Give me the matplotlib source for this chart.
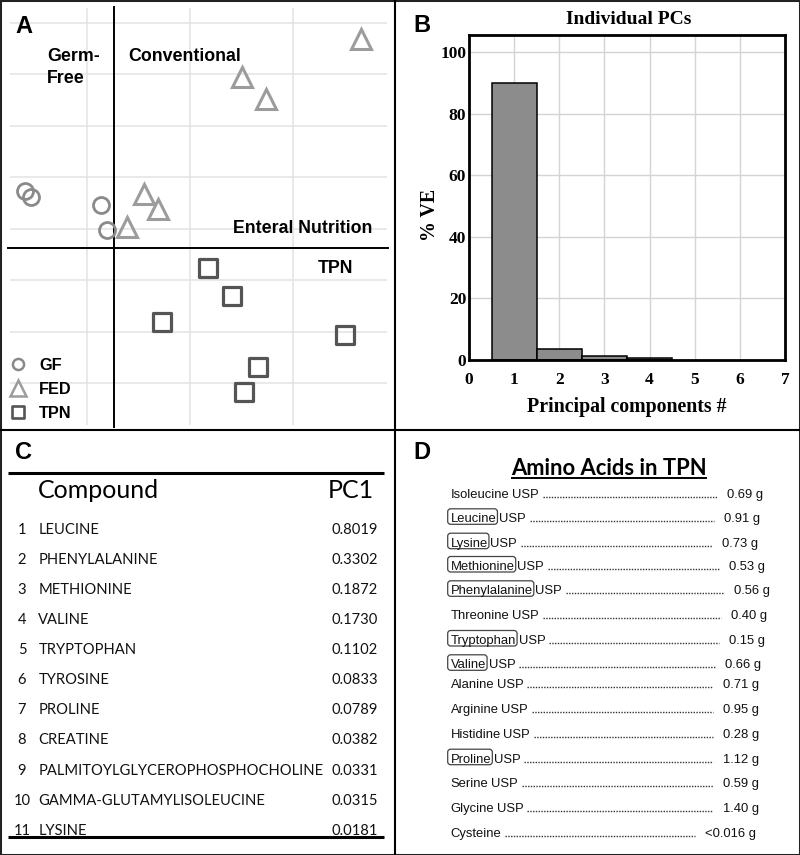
import numpy as np
import matplotlib
matplotlib.use('Agg')
import matplotlib.pyplot as plt
from matplotlib.lines import Line2D
from matplotlib.patches import FancyBboxPatch, Rectangle
from matplotlib.markers import MarkerStyle

W, H = 800, 855

# ==========================================
# DATA
# ==========================================
# A: PCA scores (origin where the black lines cross, one unit = one grid step)
gf_x = [-0.86, -0.81, -0.13, -0.07]
gf_y = [1.11, 1.00, 0.84, 0.35]
fed_x = [2.40, 1.24, 1.48, 0.29, 0.43, 0.13]
fed_y = [4.05, 3.33, 2.89, 1.05, 0.75, 0.41]
tpn_x = [0.91, 1.15, 0.47, 2.24, 1.40, 1.26]
tpn_y = [-0.38, -0.93, -1.43, -1.68, -2.31, -2.79]

# B: variance explained by each PC
pcs = [1, 2, 3, 4]
pct_ve = [90.0, 3.3, 1.1, 0.6]

# C: PC1 loadings
compounds = ['LEUCINE', 'PHENYLALANINE', 'METHIONINE', 'VALINE', 'TRYPTOPHAN',
             'TYROSINE', 'PROLINE', 'CREATINE', 'PALMITOYLGLYCEROPHOSPHOCHOLINE',
             'GAMMA-GLUTAMYLISOLEUCINE', 'LYSINE']
pc1 = [0.8019, 0.3302, 0.1872, 0.1730, 0.1102, 0.0833, 0.0789, 0.0382,
       0.0331, 0.0315, 0.0181]

# D: amino acids in TPN
amino_acids = ['Isoleucine', 'Leucine', 'Lysine', 'Methionine', 'Phenylalanine',
               'Threonine', 'Tryptophan', 'Valine', 'Alanine', 'Arginine',
               'Histidine', 'Proline', 'Serine', 'Glycine', 'Cysteine']
amounts = ['0.69', '0.91', '0.73', '0.53', '0.56', '0.40', '0.15', '0.66',
           '0.71', '0.95', '0.28', '1.12', '0.59', '1.40', '<0.016']
usp = [True] * 14 + [False]
boxed = ['Leucine', 'Lysine', 'Methionine', 'Phenylalanine', 'Tryptophan',
         'Valine', 'Proline']

# ==========================================
# FIGURE
# ==========================================
fig = plt.figure(figsize=(W / 100, H / 100), dpi=100)


def fx(px):
    return px / W


def fy(py):
    return 1 - py / H


ARIAL = 'Liberation Sans'
TIMES = 'Liberation Serif'
LATO = 'Lato'

# panel frames
fig.add_artist(Rectangle((0, 0), 1, 1, transform=fig.transFigure, fill=False,
                         lw=2.2, ec='#222222'))
fig.add_artist(Line2D([fx(395), fx(395)], [0, 1], transform=fig.transFigure,
                      lw=1.5, color='k'))
fig.add_artist(Line2D([0, 1], [fy(430), fy(430)], transform=fig.transFigure,
                      lw=1.5, color='k'))

for lab, x, y in [('A', 15, 33), ('B', 413, 32), ('C', 15, 459), ('D', 413, 459)]:
    fig.text(fx(x), fy(y), lab, family=ARIAL, weight='bold', fontsize=17,
             va='baseline')

# ---------------- A ----------------
axA = fig.add_axes([0, fy(428), fx(395), 428 / H])
axA.set_xlim(-114 / 103, (395 - 114) / 103)
axA.set_ylim((248 - 428) / 51.5, 248 / 51.5)
axA.axis('off')

grid_x = np.array([-1, 0, 1]) + 0.738
grid_y = np.arange(-3, 5) + 0.369
axA.vlines(grid_x, -3.44, 4.66, color='#e3e3e3', lw=1.1, zorder=0)
axA.hlines(grid_y, -1.01, 2.65, color='#e3e3e3', lw=1.1, zorder=0)
axA.plot([0, 0], [-3.48, 4.68], color='k', lw=1.4, zorder=1)
axA.plot([-1.03, 2.66], [0, 0], color='k', lw=1.4, zorder=1)

sq = MarkerStyle('s', joinstyle='round')
axA.plot(gf_x, gf_y, 'o', ms=11.5, mfc='none', mec='#8a8a8a', mew=2.0, zorder=3)
axA.plot(fed_x, fed_y, '^', ms=15, mfc='none', mec='#9c9c9c', mew=2.2, zorder=3)
axA.plot(tpn_x, tpn_y, marker=sq, ls='none', ms=13, mfc='none', mec='#555555',
         mew=2.3, zorder=3)

txt = dict(family=ARIAL, weight='bold', fontsize=12.8, va='baseline')
fig.text(fx(47), fy(61), 'Germ-', **txt)
fig.text(fx(47), fy(83), 'Free', **txt)
fig.text(fx(128), fy(61), 'Conventional', **txt)
fig.text(fx(233), fy(233.3), 'Enteral Nutrition', **txt)
fig.text(fx(318), fy(272.7), 'TPN', **txt)

handles = [
    Line2D([], [], ls='none', marker='o', ms=8, mfc='none', mec='#8a8a8a', mew=1.8),
    Line2D([], [], ls='none', marker='^', ms=11.5, mfc='none', mec='#9c9c9c', mew=1.8),
    Line2D([], [], ls='none', marker=sq, ms=9, mfc='none', mec='#555555', mew=1.9),
]
axA.legend(handles, ['GF', 'FED', 'TPN'], loc='upper left',
           bbox_to_anchor=(fx(8), fy(358)), bbox_transform=fig.transFigure,
           frameon=False, borderpad=0, borderaxespad=0, handlelength=1.23,
           handletextpad=0.68, labelspacing=0.55,
           prop=dict(family=ARIAL, weight='bold', size=11.7))

# ---------------- B ----------------
axB = fig.add_axes([fx(469), fy(359.5), (785 - 469) / W, (359.5 - 35) / H])
axB.bar(pcs, pct_ve, width=1.0, color='#8c8c8c', edgecolor='k', lw=1.1, zorder=2)
axB.set_xlim(0, 7)
axB.set_ylim(0, 105.6)
axB.set_xticks(range(8))
axB.set_yticks(range(0, 101, 20))
axB.grid(True, color='#d4d4d4', lw=1.0)
axB.set_axisbelow(True)
for s in axB.spines.values():
    s.set_linewidth(2.0)
axB.tick_params(length=0, labelsize=12.5)
axB.tick_params(axis='x', pad=9)
axB.tick_params(axis='y', pad=2)
for t in axB.get_xticklabels() + axB.get_yticklabels():
    t.set_family(TIMES)
    t.set_weight('bold')
fig.text(fx(629), fy(24), 'Individual PCs', family=TIMES, weight='bold',
         fontsize=14, ha='center', va='baseline')
fig.text(fx(627), fy(411.7), 'Principal components #', family=TIMES, weight='bold',
         fontsize=14.3, ha='center', va='baseline')
fig.text(fx(430), fy(215), '% VE', family=TIMES, weight='bold', fontsize=14.3,
         ha='center', va='center', rotation=90)

# ---------------- C ----------------
axC = fig.add_axes([0, 0, fx(395), 425 / H])
axC.set_xlim(0, 395)
axC.set_ylim(855, 430)
axC.axis('off')
axC.plot([8, 384], [472.7, 472.7], color='k', lw=2.2, solid_capstyle='butt')
axC.plot([8, 384], [837.3, 837.3], color='k', lw=2.2, solid_capstyle='butt')
axC.text(38.3, 498.5, 'Compound', family=LATO, fontsize=18, va='baseline')
axC.text(374, 498.5, 'PC1', family=LATO, fontsize=18, va='baseline', ha='right')
crow = dict(family=LATO, fontsize=10.6, va='baseline', color='#111111')
for i, (name, val) in enumerate(zip(compounds, pc1)):
    yb = 534 + 30.07 * i
    axC.text(22, yb, str(i + 1), ha='center', **crow)
    axC.text(38.3, yb, name, **crow)
    axC.text(377.7, yb, f'{val:.4f}', ha='right', **crow)

# ---------------- D ----------------
axD = fig.add_axes([fx(400), 0, fx(400), 425 / H])
axD.set_xlim(400, 800)
axD.set_ylim(855, 430)
axD.axis('off')

renderer = fig.canvas.get_renderer()
inv = axD.transData.inverted()


def xspan(t):
    bb = t.get_window_extent(renderer)
    (x0, _), (x1, _) = inv.transform([[bb.x0, bb.y0], [bb.x1, bb.y1]])
    return x0, x1


title = axD.text(609, 475, 'Amino Acids in TPN', family=LATO, weight='bold',
                 fontsize=15.8, ha='center', va='baseline')
t0, t1 = xspan(title)
axD.plot([t0, t1], [478.5, 478.5], color='k', lw=1.4, solid_capstyle='butt')

d_base = [497.7, 522.3, 546.7, 570, 594.3, 619, 644, 668.3, 688.3, 712.7,
          737.7, 762.7, 787.3, 811.7, 836.7]
d_shift = [4, 1, -1, 6, 11, 8, 6, 2, 0, 0, 0, 0, 0, 0, -3]
row = dict(family=ARIAL, fontsize=9.4, va='baseline', color='#111111')
for i, (name, amt) in enumerate(zip(amino_acids, amounts)):
    yb = d_base[i]
    tn = axD.text(450.7, yb, name, **row)
    n0, n1 = xspan(tn)
    if name in boxed:
        axD.add_patch(FancyBboxPatch((n0 - 3, yb - 13.5), n1 - n0 + 4, 15.5,
                                     boxstyle='round,pad=0,rounding_size=3',
                                     fill=False, ec='#444444', lw=0.9))
    end = n1
    if usp[i]:
        tu = axD.text(n1 + 2.5, yb, 'USP', **row)
        end = xspan(tu)[1]
    tv = axD.text(759 + d_shift[i], yb, amt + ' g', ha='right', **row)
    v0 = xspan(tv)[0]
    axD.plot([end + 4, v0 - 10], [yb - 0.8, yb - 0.8], color='#333333', lw=1.0,
             ls=(0, (1.0, 1.0)))

fig.savefig('out.png', dpi=100)
